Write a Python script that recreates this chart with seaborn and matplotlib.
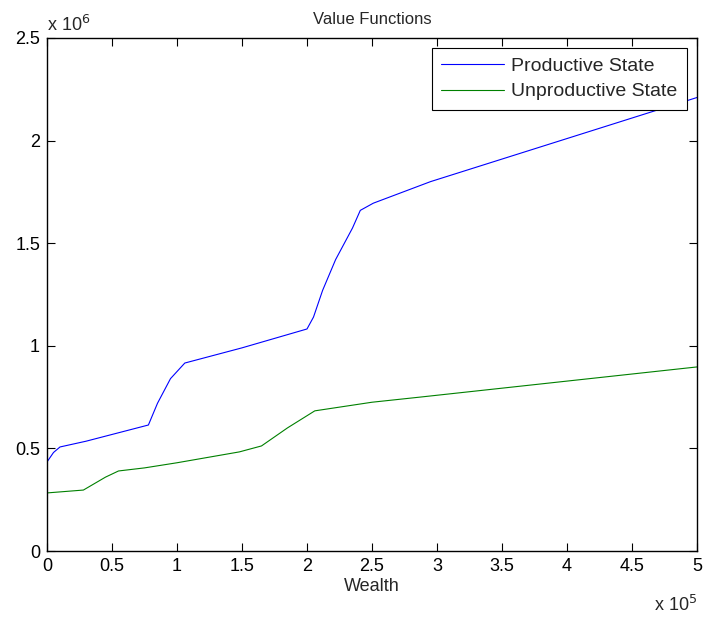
import matplotlib
matplotlib.use("Agg")
import matplotlib.pyplot as plt
import seaborn as sns
import pandas as pd

# Wealth in units of 1e5, value in units of 1e6
prod_wealth = [0, 0.05, 0.1, 0.3, 0.78, 0.85, 0.95, 1.06, 1.5, 2.0, 2.05, 2.12,
               2.22, 2.35, 2.41, 2.51, 2.95, 5.0]
prod_value = [0.434, 0.48, 0.507, 0.535, 0.614, 0.72, 0.84, 0.916, 0.99, 1.082,
              1.14, 1.27, 1.42, 1.574, 1.66, 1.695, 1.80, 2.21]
unprod_wealth = [0, 0.28, 0.45, 0.55, 0.75, 1.0, 1.48, 1.65, 1.85, 2.06, 2.5,
                 2.87, 5.0]
unprod_value = [0.283, 0.297, 0.36, 0.39, 0.405, 0.43, 0.483, 0.512, 0.6,
                0.683, 0.725, 0.75, 0.897]
series_names = ["Productive State", "Unproductive State"]
x_ticks = [0, 0.5, 1, 1.5, 2, 2.5, 3, 3.5, 4, 4.5, 5]
x_ticklabels = ["0", "0.5", "1", "1.5", "2", "2.5", "3", "3.5", "4", "4.5", "5"]
y_ticks = [0, 0.5, 1, 1.5, 2, 2.5]
y_ticklabels = ["0", "0.5", "1", "1.5", "2", "2.5"]

sns.set_style("white")
plt.rcParams["font.family"] = ["Liberation Sans", "DejaVu Sans"]

df = pd.concat([
    pd.DataFrame({"Wealth": prod_wealth, "Value": prod_value, "State": series_names[0]}),
    pd.DataFrame({"Wealth": unprod_wealth, "Value": unprod_value, "State": series_names[1]}),
])

fig = plt.figure(figsize=(7.05, 6.21), dpi=100)
ax = fig.add_axes([47 / 705, 1 - 551 / 621, 650 / 705, 513 / 621])
sns.lineplot(data=df, x="Wealth", y="Value", hue="State", sort=False,
             palette={series_names[0]: (0, 0, 1), series_names[1]: (0, 0.5, 0)},
             linewidth=0.8, ax=ax, legend=True)

ax.set_xlim(0, 5)
ax.set_ylim(0, 2.5)
ax.set_xticks(x_ticks)
ax.set_xticklabels(x_ticklabels, fontsize=13)
ax.set_yticks(y_ticks)
ax.set_yticklabels(y_ticklabels, fontsize=13)
ax.tick_params(direction="in", length=6, width=0.8, top=True, right=True,
               bottom=True, left=True, pad=5, colors="black")
for s in ax.spines.values():
    s.set_visible(True)
    s.set_color("black")
    s.set_linewidth(1.0)
ax.set_xlabel("Wealth", fontsize=13, labelpad=2)
ax.set_ylabel("")
ax.set_title("Value Functions", fontsize=12, pad=10)

ax.text(0.0, 1.005, "x 10$^{6}$", transform=ax.transAxes, fontsize=13,
        ha="left", va="bottom")
ax.text(1.0, -0.085, "x 10$^{5}$", transform=ax.transAxes, fontsize=13,
        ha="right", va="top")

leg = ax.legend(loc="upper right", fontsize=14, frameon=True, fancybox=False,
                framealpha=1.0, borderaxespad=0.5, handlelength=3.2,
                handletextpad=0.4, labelspacing=0.4, borderpad=0.5)
leg.get_frame().set_edgecolor("black")
leg.get_frame().set_linewidth(0.8)
leg.set_title(None)

fig.savefig("out.png", dpi=100, facecolor="white")
